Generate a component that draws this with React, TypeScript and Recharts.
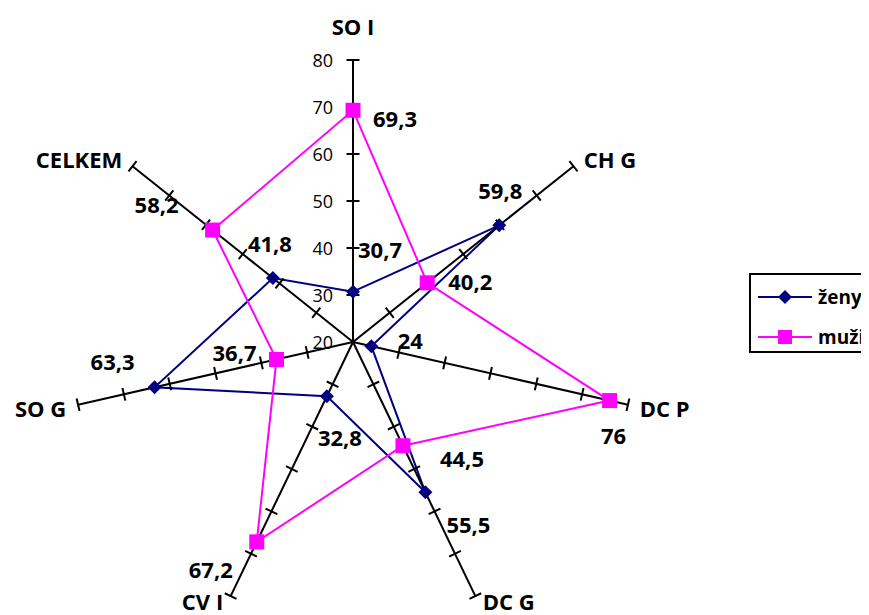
import { RadarChart, Radar, PolarAngleAxis, PolarRadiusAxis, LabelList } from "recharts";

const categories = ["SO I", "CH G", "DC P", "DC G", "CV I", "SO G", "CELKEM"];
const zenyValues = [30.7, 59.8, 24, 55.5, 32.8, 63.3, 41.8];
const muziValues = [69.3, 40.2, 76, 44.5, 67.2, 36.7, 58.2];
const radiusTicks = [20, 30, 40, 50, 60, 70, 80];

const seriesNames = ["ženy", "muži"];
const seriesColors = ["#000080", "#FF00FF"];

// where each value label sits relative to its point (px)
const zenyLabelOffsets = [[27, -43], [1, -35], [39, -6], [43, 32], [13, 41], [-42, -26], [-3, -35]];
const muziLabelOffsets = [[42, 8], [43, -2], [4, 34], [59, 12], [-46, 27], [-42, -7], [-56, -26]];

const FONT = "'Open Sans', sans-serif";

const data = categories.map((category, i) => ({
  category,
  zeny: zenyValues[i],
  muzi: muziValues[i],
}));

const spokeAngles = categories.map((_, i) => 90 - (i * 360) / categories.length);

const fmt = (v: number) => String(v).replace(".", ",");

const makeRadiusTick = (angle: number, showLabel: boolean) => (props: any) => {
  const { x, y, payload } = props;
  const rad = (angle * Math.PI) / 180;
  const px = Math.sin(rad) * 6.5;
  const py = Math.cos(rad) * 6.5;
  return (
    <g>
      {payload.value > 20 && (
        <line x1={x - px} y1={y - py} x2={x + px} y2={y + py} stroke="#000" strokeWidth={2} />
      )}
      {showLabel && (
        <text x={x - 20} y={y} textAnchor="end" dominantBaseline="central" fontFamily={FONT} fontSize={18} fill="#000">
          {payload.value}
        </text>
      )}
    </g>
  );
};

const AngleTick = (props: any) => {
  const { x, y, payload } = props;
  const rad = (payload.coordinate * Math.PI) / 180;
  const c = Math.cos(rad);
  const s = Math.sin(rad);
  let anchor = "middle";
  let dx = 0;
  if (c > 0.1) { anchor = "start"; dx = 4; }
  else if (c < -0.1) { anchor = "end"; dx = -4; }
  const dy = s > 0.9 ? -26 : s > 0 ? -2 : s < -0.5 ? -2 : 1;
  return (
    <text x={x + dx} y={y + dy} textAnchor={anchor} dominantBaseline="central" fontFamily={FONT} fontWeight="bold" fontSize={22} fill="#000">
      {payload.value}
    </text>
  );
};

const makeLabel = (offsets: number[][]) => (props: any) => {
  const { x, y, value, index } = props;
  const [dx, dy] = offsets[index] || [0, 0];
  return (
    <text x={x + dx} y={y + dy} textAnchor="middle" dominantBaseline="central" fontFamily={FONT} fontWeight="bold" fontSize={22} fill="#000">
      {fmt(value)}
    </text>
  );
};

const DiamondDot = (props: any) => {
  const { cx, cy } = props;
  const d = 7;
  return <polygon points={`${cx},${cy - d} ${cx + d},${cy} ${cx},${cy + d} ${cx - d},${cy}`} fill={seriesColors[0]} />;
};

const SquareDot = (props: any) => {
  const { cx, cy } = props;
  return <rect x={cx - 7.5} y={cy - 7.5} width={15} height={15} fill={seriesColors[1]} />;
};

function LegendBox() {
  return (
    <div
      style={{
        position: "absolute",
        left: 741,
        top: 265,
        width: 140,
        height: 76,
        border: "2px solid #000",
        background: "#fff",
        fontFamily: FONT,
        fontWeight: "bold",
        fontSize: 19,
      }}
    >
      {seriesNames.map((name, i) => (
        <div key={name} style={{ position: "absolute", left: 7, top: i === 0 ? 8 : 48, height: 28, display: "flex", alignItems: "center" }}>
          <svg width={56} height={20}>
            <line x1={0} y1={10} x2={54} y2={10} stroke={seriesColors[i]} strokeWidth={2} />
            {i === 0 ? (
              <polygon points="27,3 34,10 27,17 20,10" fill={seriesColors[i]} />
            ) : (
              <rect x={20} y={3} width={14} height={14} fill={seriesColors[i]} />
            )}
          </svg>
          <span style={{ marginLeft: 4 }}>{name}</span>
        </div>
      ))}
    </div>
  );
}

export default function App() {
  return (
    <div style={{ position: "relative", width: 861, height: 607, overflow: "hidden", background: "#fff" }}>
      <RadarChart
        width={861}
        height={607}
        data={data}
        cx={345}
        cy={334}
        outerRadius={282}
        innerRadius={0}
        startAngle={90}
        endAngle={-270}
        margin={{ top: 0, right: 0, bottom: 0, left: 0 }}
      >
        {spokeAngles.map((angle, i) => (
          <PolarRadiusAxis
            key={i}
            radiusAxisId={i === 0 ? 0 : `spoke${i}`}
            angle={angle}
            type="number"
            domain={[20, 80]}
            ticks={radiusTicks}
            tickCount={radiusTicks.length}
            allowDataOverflow
            axisLine={{ stroke: "#000", strokeWidth: 2 }}
            tick={makeRadiusTick(angle, i === 0)}
          />
        ))}
        <PolarAngleAxis dataKey="category" axisLine={false} tickLine={false} tick={<AngleTick />} />
        <Radar
          name={seriesNames[0]}
          dataKey="zeny"
          stroke={seriesColors[0]}
          strokeWidth={2}
          fill="none"
          fillOpacity={0}
          dot={<DiamondDot />}
          isAnimationActive={false}
        >
          <LabelList dataKey="zeny" content={makeLabel(zenyLabelOffsets)} />
        </Radar>
        <Radar
          name={seriesNames[1]}
          dataKey="muzi"
          stroke={seriesColors[1]}
          strokeWidth={2}
          fill="none"
          fillOpacity={0}
          dot={<SquareDot />}
          isAnimationActive={false}
        >
          <LabelList dataKey="muzi" content={makeLabel(muziLabelOffsets)} />
        </Radar>
      </RadarChart>
      <LegendBox />
    </div>
  );
}
